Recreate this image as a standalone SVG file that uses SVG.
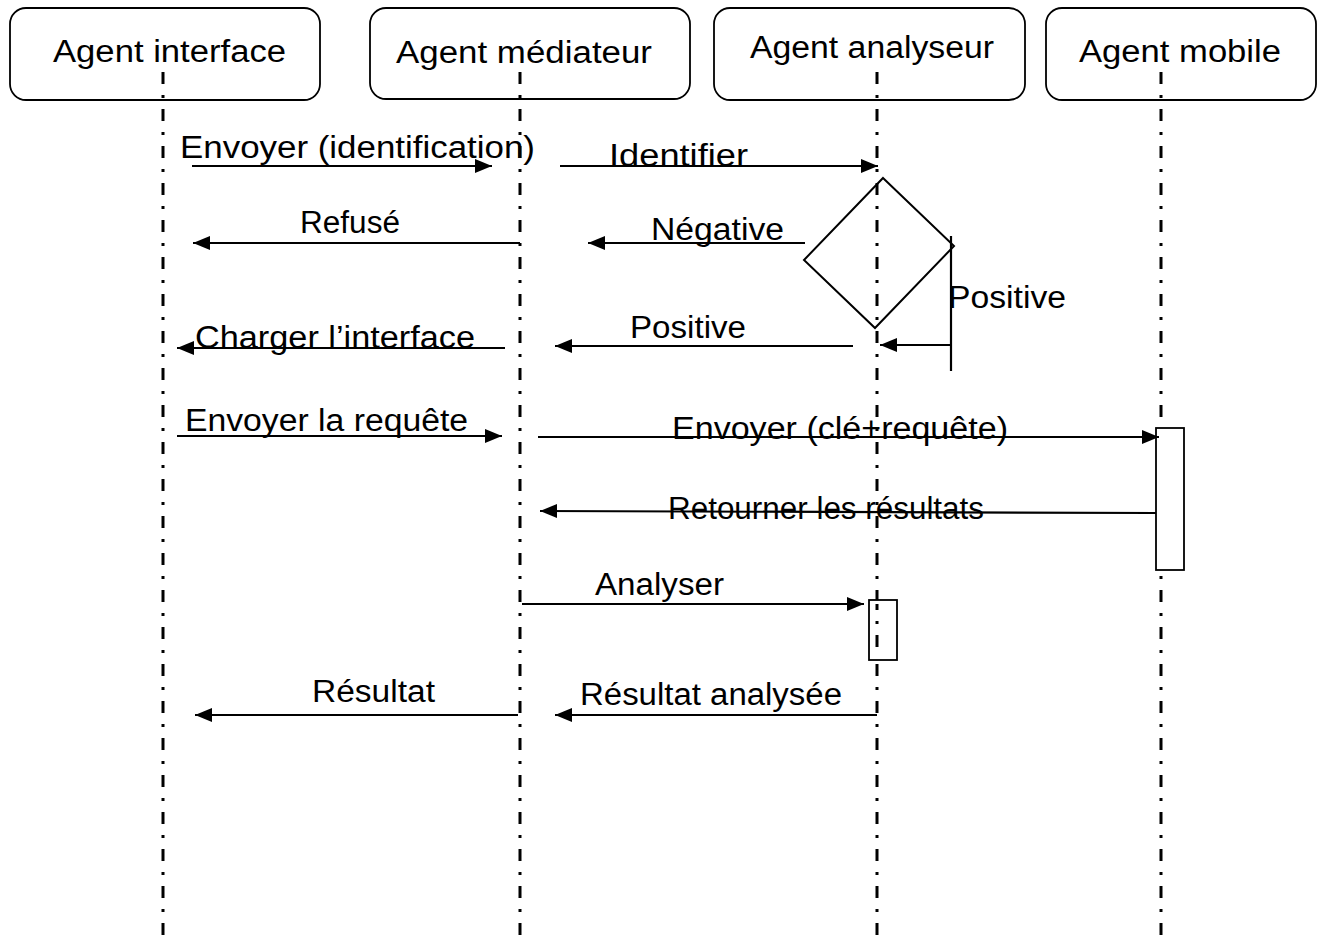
<svg xmlns="http://www.w3.org/2000/svg" width="1327" height="944" viewBox="0 0 1327 944">
<style>
.box{fill:none;stroke:#000;stroke-width:1.8}
.life{stroke:#000;stroke-width:3;stroke-dasharray:12 11 3 11;fill:none}
.msg{stroke:#000;stroke-width:2.2;fill:none}
.arr{marker-end:url(#ah)}
.t{font-family:"Liberation Sans",Arial,sans-serif;font-size:31px;fill:#000}
.act{fill:#fff;stroke:#000;stroke-width:1.8}
</style>
<defs>
<marker id="ah" markerUnits="userSpaceOnUse" markerWidth="18" markerHeight="16" refX="17" refY="8" orient="auto">
<path d="M0,1 L17,8 L0,15 z" fill="#000"/>
</marker>
</defs>
<rect width="1327" height="944" fill="#fff"/>
<g id="node-interface">
<rect class="box" x="10" y="8" width="310" height="92" rx="16"/>
<text class="t" x="53" y="62" textLength="233" lengthAdjust="spacingAndGlyphs">Agent interface</text>
</g>
<g id="node-mediateur">
<rect class="box" x="370" y="8" width="320" height="91" rx="16"/>
<text class="t" x="396" y="63" textLength="256" lengthAdjust="spacingAndGlyphs">Agent médiateur</text>
</g>
<g id="node-analyseur">
<rect class="box" x="714" y="8" width="311" height="92" rx="16"/>
<text class="t" x="750" y="58" textLength="244" lengthAdjust="spacingAndGlyphs">Agent analyseur</text>
</g>
<g id="node-mobile">
<rect class="box" x="1046" y="8" width="270" height="92" rx="16"/>
<text class="t" x="1079" y="62" textLength="202" lengthAdjust="spacingAndGlyphs">Agent mobile</text>
</g>
<g id="lifelines">
<line class="life" x1="163" y1="72" x2="163" y2="944"/>
<line class="life" x1="520" y1="72" x2="520" y2="944"/>
<line class="life" x1="877" y1="72" x2="877" y2="944"/>
<line class="life" x1="1161" y1="72" x2="1161" y2="944"/>
</g>
<g id="decision">
<polygon points="883,178 954,246 875,328 804,260" fill="none" stroke="#000" stroke-width="2"/>
</g>
<g id="activation-mobile">
<rect class="act" x="1156" y="428" width="28" height="142"/>
</g>
<g id="activation-analyseur">
<rect class="act" x="869" y="600" width="28" height="60"/>
<line class="life" x1="877" y1="604" x2="877" y2="656" stroke-dashoffset="6"/>
</g>
<g id="connectors">
<line class="msg arr" x1="192" y1="166" x2="492" y2="166"/>
<line class="msg arr" x1="560" y1="166" x2="878" y2="166"/>
<line class="msg arr" x1="520" y1="243" x2="193" y2="243"/>
<line class="msg arr" x1="805" y1="243" x2="588" y2="243"/>
<line class="msg" x1="951" y1="236" x2="951" y2="371"/>
<line class="msg arr" x1="951" y1="345" x2="880" y2="345"/>
<line class="msg arr" x1="853" y1="346" x2="555" y2="346"/>
<line class="msg arr" x1="505" y1="348" x2="177" y2="348"/>
<line class="msg arr" x1="177" y1="436" x2="502" y2="436"/>
<line class="msg arr" x1="538" y1="437" x2="1159" y2="437"/>
<line class="msg arr" x1="1156" y1="513" x2="540" y2="511"/>
<line class="msg arr" x1="522" y1="604" x2="864" y2="604"/>
<line class="msg arr" x1="877" y1="715" x2="555" y2="715"/>
<line class="msg arr" x1="518" y1="715" x2="195" y2="715"/>
</g>
<g id="labels">
<text class="t" x="180" y="158" textLength="355" lengthAdjust="spacingAndGlyphs">Envoyer (identification)</text>
<text class="t" x="609" y="166" textLength="139" lengthAdjust="spacingAndGlyphs">Identifier</text>
<text class="t" x="300" y="233" textLength="100" lengthAdjust="spacingAndGlyphs">Refusé</text>
<text class="t" x="651" y="240" textLength="133" lengthAdjust="spacingAndGlyphs">Négative</text>
<text class="t" x="948" y="308" textLength="118" lengthAdjust="spacingAndGlyphs">Positive</text>
<text class="t" x="630" y="338" textLength="116" lengthAdjust="spacingAndGlyphs">Positive</text>
<text class="t" x="195" y="348" textLength="280" lengthAdjust="spacingAndGlyphs">Charger l’interface</text>
<text class="t" x="185" y="431" textLength="283" lengthAdjust="spacingAndGlyphs">Envoyer la requête</text>
<text class="t" x="672" y="439" textLength="336" lengthAdjust="spacingAndGlyphs">Envoyer (clé+requête)</text>
<text class="t" x="668" y="519" textLength="316" lengthAdjust="spacingAndGlyphs">Retourner les résultats</text>
<text class="t" x="595" y="595" textLength="129" lengthAdjust="spacingAndGlyphs">Analyser</text>
<text class="t" x="312" y="702" textLength="123" lengthAdjust="spacingAndGlyphs">Résultat</text>
<text class="t" x="580" y="705" textLength="262" lengthAdjust="spacingAndGlyphs">Résultat analysée</text>
</g>
</svg>
